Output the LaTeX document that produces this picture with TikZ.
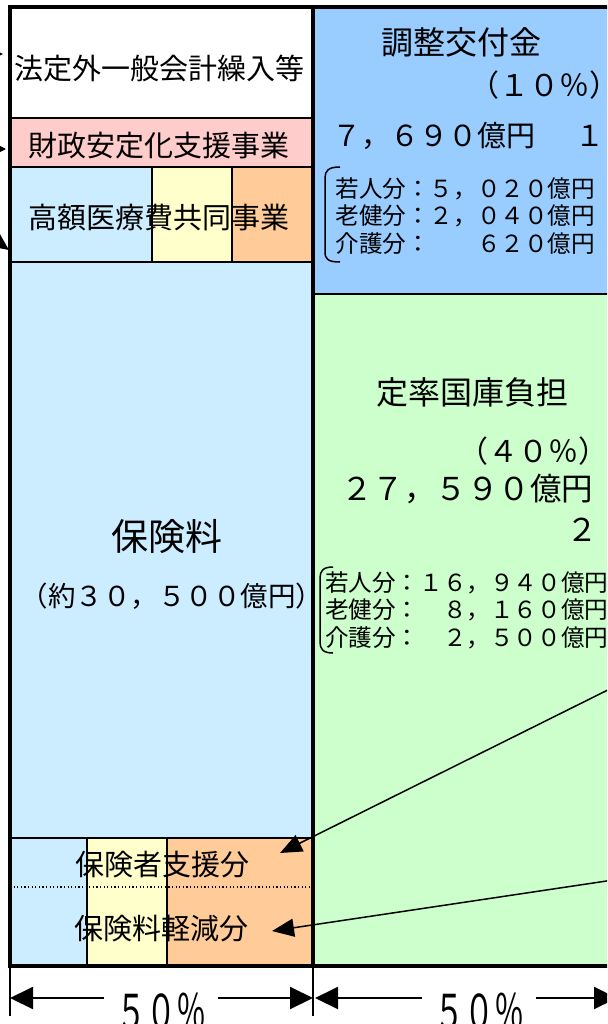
\documentclass[tikz,border=0pt]{standalone}
\usepackage{fontspec}
\setmainfont{Noto Sans CJK JP}
\usetikzlibrary{arrows.meta}
\definecolor{cPink}{HTML}{FFCCCC}
\definecolor{cLBlue}{HTML}{CCECFF}
\definecolor{cYel}{HTML}{FFFFCC}
\definecolor{cOra}{HTML}{FFCC99}
\definecolor{cBlue}{HTML}{99CCFF}
\definecolor{cGreen}{HTML}{CCFFCC}
\tikzset{
  area/.style={inner sep=0pt, outer sep=0pt, anchor=north west, draw=none},
  sepline/.style={line width=2.5pt},
  splitline/.style={line width=1.6pt},
  frameline/.style={line width=4pt, line join=miter},
  txt/.style={inner sep=0pt, outer sep=0pt, text=black},
  fA/.style={font=\fontsize{29}{29}\selectfont},
  fB/.style={font=\fontsize{32}{32}\selectfont},
  fC/.style={font=\fontsize{30}{30}\selectfont},
  fD/.style={font=\fontsize{23.6}{27.5}\selectfont},
  bracket/.style={line width=1.5pt},
  bigarrow/.style={line width=1.5pt, -{Triangle[length=22pt,width=18pt]}},
  dimarrow/.style={line width=2pt, -{Triangle[length=23pt,width=22pt]}},
  tick/.style={line width=1.2pt},
}
\begin{document}
\begin{tikzpicture}[x=1pt,y=-1pt]
\useasboundingbox (0,0) rectangle (607,1024);
\clip (0,0) rectangle (607,1024);
\fill[white] (0,0) rectangle (607,1024);

% areas
\node[area, fill=white, minimum width=303pt, minimum height=111pt] (white) at (10,7) {};
\node[area, fill=cPink, minimum width=303pt, minimum height=49pt] (pink) at (10,118) {};
\node[area, fill=cLBlue, minimum width=142pt, minimum height=95pt] (hb) at (10,167) {};
\node[area, fill=cYel, minimum width=80pt, minimum height=95pt] (hy) at (152,167) {};
\node[area, fill=cOra, minimum width=81pt, minimum height=95pt] (ho) at (232,167) {};
\node[area, fill=cLBlue, minimum width=303pt, minimum height=576pt] (prem) at (10,262) {};
\node[area, fill=cLBlue, minimum width=77pt, minimum height=128pt] (bb) at (10,838) {};
\node[area, fill=cYel, minimum width=80pt, minimum height=128pt] (by) at (87,838) {};
\node[area, fill=cOra, minimum width=146pt, minimum height=128pt] (bo) at (167,838) {};
\node[area, fill=cBlue, minimum width=320pt, minimum height=287pt] (adj) at (313,7) {};
\node[area, fill=cGreen, minimum width=320pt, minimum height=672pt] (fix) at (313,294) {};

% inner lines
\draw[sepline] (white.south west) -- (white.south east);
\draw[sepline] (pink.south west) -- (pink.south east);
\draw[sepline] (hb.south west) -- (ho.south east);
\draw[splitline] (hy.north west) -- (hy.south west);
\draw[splitline] (ho.north west) -- (ho.south west);
\draw[sepline] (bb.north west) -- (bo.north east);
\draw[splitline] (by.north west) -- (by.south west);
\draw[splitline] (bo.north west) -- (bo.south west);
\coordinate (dotL) at (10,887);
\coordinate (dotR) at (313,887);
\draw[line width=1.1pt, dash pattern=on 1.2pt off 2.4pt] (dotL) -- (dotR);
\draw[sepline] (adj.south west) -- (adj.south east);

% frame
\draw[frameline] (adj.north east) -- (white.north west) -- (bb.south west) -- (fix.south east);
\draw[frameline] (adj.north west) -- (fix.south west);

% left column texts
\node[txt, fA] (tGen) at (159,68) {法定外一般会計繰入等};
\node[txt, fA] (tFin) at (159,146) {財政安定化支援事業};
\node[txt, fA] (tHigh) at (159,218) {高額医療費共同事業};
\node[txt, font=\fontsize{37}{37}\selectfont] (tPrem) at (167,537) {保険料};
\node[txt, font=\fontsize{27.5}{27.5}\selectfont, anchor=west] (tPremAmt) at (20.5,596) {（約３０，５００億円）};
\node[txt, fA] (tSup) at (162,865) {保険者支援分};
\node[txt, fA] (tRed) at (161,929) {保険料軽減分};

% right column: adjustment grant
\node[txt, fB] (tAdj) at (461,42) {調整交付金};
\node[txt, fC, anchor=west] (tAdjPct) at (469,85) {（１０％）};
\node[txt, fA, anchor=west] (tAdjAmt) at (332.5,136) {７，６９０億円\hspace{40pt}１};
\node[txt, fD, anchor=west, align=left] (tAdjRows) at (335.5,216)
  {若人分：５，０２０億円\\老健分：２，０４０億円\\介護分：　　６２０億円};
\draw[bracket] (340,167) .. controls (328,167) and (325,171) .. (325,178) -- (325,252)
  .. controls (325,259) and (328,262) .. (340,262);

% right column: fixed-rate state share
\node[txt, fB] (tFix) at (472,392) {定率国庫負担};
\node[txt, fC, anchor=west] (tFixPct) at (458,451) {（４０％）};
\node[txt, font=\fontsize{31.5}{31.5}\selectfont, anchor=west] (tFixAmt) at (341,489) {２７，５９０億円};
\node[txt, font=\fontsize{31.5}{31.5}\selectfont] (tFix2) at (582,530) {２};
\node[txt, fD, anchor=west, align=left] (tFixRows) at (325,610)
  {若人分：１６，９４０億円\\老健分：　８，１６０億円\\介護分：　２，５００億円};
\draw[bracket] (333,567) .. controls (323,567) and (320,571) .. (320,578) -- (320,642)
  .. controls (320,649) and (323,653) .. (333,653);

% arrows from right
\coordinate (s1) at (640,674);
\coordinate (a1) at (280,853);
\coordinate (s2) at (640,876);
\coordinate (a2) at (272,931);
\draw[bigarrow] (s1) -- (a1);
\draw[bigarrow] (s2) -- (a2);

% arrows at left edge (mostly outside)
\coordinate (e1s) at (-30,54);  \coordinate (e1t) at (3,54);
\coordinate (e2s) at (-30,149); \coordinate (e2t) at (6,149);
\coordinate (e3s) at (-40,215); \coordinate (e3t) at (9,250);
\draw[line width=1.5pt, -{Triangle[length=9pt,width=8pt]}] (e1s) -- (e1t);
\draw[line width=1.5pt, -{Triangle[length=10pt,width=10pt]}] (e2s) -- (e2t);
\draw[line width=1.5pt, -{Triangle[length=22pt,width=20pt]}] (e3s) -- (e3t);

% dimension lines
\coordinate (tk1a) at (10,968);  \coordinate (tk1b) at (10,1016);
\coordinate (tk2a) at (313,968); \coordinate (tk2b) at (313,1016);
\draw[tick] (tk1a) -- (tk1b);
\draw[tick] (tk2a) -- (tk2b);
\coordinate (dL1) at (10,998);
\coordinate (dL2) at (313,998);
\coordinate (dR1) at (315,998);
\coordinate (dR2) at (617,998);
\node[txt, inner xsep=12pt, fC] (p50L) at (161,1012) {\scalebox{1}[1.6]{５０％}};
\node[txt, inner xsep=12pt, fC] (p50R) at (479,1012) {\scalebox{1}[1.6]{５０％}};
\draw[dimarrow] (p50L.west |- dL1) -- (dL1);
\draw[dimarrow] (p50L.east |- dL2) -- (dL2);
\draw[dimarrow] (p50R.west |- dR1) -- (dR1);
\draw[dimarrow] (p50R.east |- dR2) -- (dR2);
\end{tikzpicture}
\end{document}
